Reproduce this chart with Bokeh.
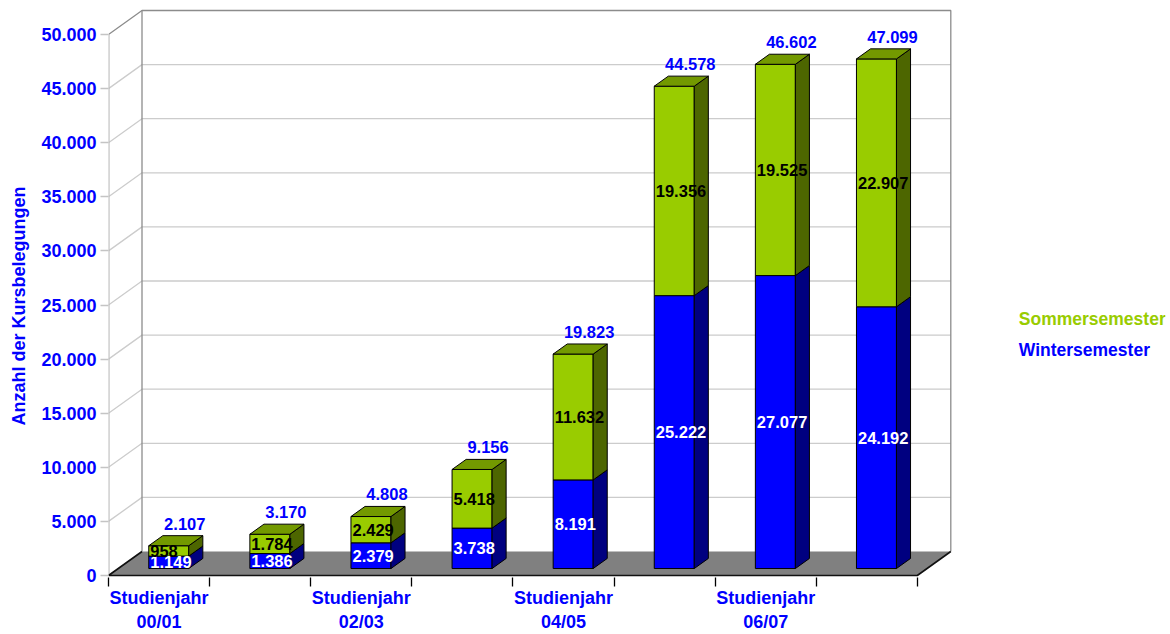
from bokeh.plotting import figure
from bokeh.models import ColumnDataSource, FixedTicker, Range1d, Title
from bokeh.core.properties import value
from bokeh.embed import file_html
from bokeh.resources import INLINE

# ---------------- data ----------------
years = ["00/01", "01/02", "02/03", "03/04", "04/05", "05/06", "06/07", "07/08"]
winter = [1149, 1386, 2379, 3738, 8191, 25222, 27077, 24192]
summer = [958, 1784, 2429, 5418, 11632, 19356, 19525, 22907]
y_ticks = [0, 5000, 10000, 15000, 20000, 25000, 30000, 35000, 40000, 45000, 50000]
labelled_years = ["00/01", "02/03", "04/05", "06/07"]
series_names = ["Sommersemester", "Wintersemester"]
y_title = "Anzahl der Kursbelegungen"
x_prefix = "Studienjahr"


def de(v):
    return f"{v:,}".replace(",", ".")


totals = [w + s for w, s in zip(winter, summer)]
N = len(years)
YMAX = y_ticks[-1]

# ---------------- geometry (pixel scale of the 3D box) ----------------
W, H = 1170, 634
LEFT, RIGHT, TOP, BOTTOM = 108, 5, 2, 57
PX_X = 101.1                 # pixels per category
PX_Y = 541.0 / YMAX          # pixels per unit
ZERO_PX_FROM_BOTTOM = 2      # y=0 is 2px above frame bottom
DX = 33.5 / PX_X             # full depth (x units)
DY = 24.0 / PX_Y             # full depth (y units)
FRONT, BDEPTH = 0.29, 0.42
HALF = 20.0 / PX_X
ox, oy = FRONT * DX, FRONT * DY
bdx, bdy = BDEPTH * DX, BDEPTH * DY

frame_w = W - LEFT - RIGHT
frame_h = H - TOP - BOTTOM
y_start = -ZERO_PX_FROM_BOTTOM / PX_Y
y_end = y_start + frame_h / PX_Y
x_end = frame_w / PX_X

FONT = value("Liberation Sans")
BLUE = "#0000ff"
GREEN = "#99cc00"

p = figure(width=W, height=H, x_range=Range1d(0, x_end), y_range=Range1d(y_start, y_end),
           output_backend="svg", toolbar_location=None,
           min_border_left=LEFT, min_border_right=RIGHT,
           min_border_top=TOP, min_border_bottom=BOTTOM)
p.outline_line_color = None
p.xgrid.visible = False
p.ygrid.visible = False
p.background_fill_color = "white"

# ---------------- walls & floor ----------------
p.patch([DX, N + DX, N + DX, DX], [DY, DY, YMAX + DY, YMAX + DY],
        fill_color="white", line_color=None)

grid_vals = y_ticks[1:-1]
gxs, gys = [], []
for v in grid_vals:
    gxs.append([0, DX, N + DX])
    gys.append([v, v + DY, v + DY])
p.multi_line(gxs, gys, line_color="#cccccc", line_width=1.3)

# back-left edge, top edge, right edge
p.multi_line([[DX, DX], [0, DX, N + DX, N + DX]],
             [[DY, YMAX + DY], [YMAX, YMAX + DY, YMAX + DY, DY]],
             line_color="#8c8c8c", line_width=1.3)
# front vertical axis line
p.line([0, 0], [0, YMAX], line_color="#bdbdbd", line_width=2.2)

# floor
p.patch([0, N, N + DX, DX], [0, 0, DY, DY], fill_color="#808080", line_color=None)
p.multi_line([[DX, 0, N, N + DX]], [[DY, 0, 0, DY]], line_color="#111111", line_width=1.6)

# ---------------- bars ----------------
front_xs, front_ys, front_c = [], [], []
side_xs, side_ys, side_c = [], [], []
top_xs, top_ys = [], []
for i in range(N):
    xl = i + 0.5 - HALF + ox
    xr = i + 0.5 + HALF + ox
    segs = [(0, winter[i], BLUE, "#000080"),
            (winter[i], totals[i], GREEN, "#4d6600")]
    for b, t, fc, sc in segs:
        y0, y1 = b + oy, t + oy
        front_xs.append([xl, xr, xr, xl]); front_ys.append([y0, y0, y1, y1]); front_c.append(fc)
        side_xs.append([xr, xr + bdx, xr + bdx, xr]); side_ys.append([y0, y0 + bdy, y1 + bdy, y1]); side_c.append(sc)
    y1 = totals[i] + oy
    top_xs.append([xl, xr, xr + bdx, xl + bdx]); top_ys.append([y1, y1, y1 + bdy, y1 + bdy])

p.patches(front_xs, front_ys, fill_color=front_c, line_color="black", line_width=1)
p.patches(side_xs, side_ys, fill_color=side_c, line_color="black", line_width=1)
p.patches(top_xs, top_ys, fill_color="#739900", line_color="black", line_width=1)

# ---------------- value labels ----------------
cx = [i + 0.5 + ox for i in range(N)]
lx = [c - HALF + 1.5 / PX_X for c in cx]        # labels start at the bar's front-left edge
win_src = ColumnDataSource(dict(x=lx, y=[w / 2 + oy for w in winter], t=[de(w) for w in winter]))
sum_src = ColumnDataSource(dict(x=lx, y=[w + s / 2 + oy for w, s in zip(winter, summer)],
                                t=[de(s) for s in summer]))
tot_src = ColumnDataSource(dict(x=[c + 16 / PX_X for c in cx],
                                y=[t + oy + bdy + 12 / PX_Y for t in totals],
                                t=[de(t) for t in totals]))
common = dict(text_font=FONT, text_font_style="bold", text_font_size="16.5px",
              text_baseline="middle")
p.text("x", "y", text="t", source=win_src, text_color="white", text_align="left", **common)
p.text("x", "y", text="t", source=sum_src, text_color="black", text_align="left", **common)
p.text("x", "y", text="t", source=tot_src, text_color=BLUE, text_align="center", **common)

# ---------------- legend (text only) ----------------
leg_src = ColumnDataSource(dict(x=[N + DX + 68 / PX_X] * 2,
                                y=[257 / PX_Y, 226 / PX_Y],
                                t=series_names, c=[GREEN, BLUE]))
p.text("x", "y", text="t", source=leg_src, text_color="c", text_font=FONT,
       text_font_style="bold", text_font_size="17.5px", text_align="left", text_baseline="middle")

# ---------------- axes ----------------
yax = p.yaxis[0]
yax.ticker = FixedTicker(ticks=y_ticks)
yax.major_label_overrides = {v: de(v) for v in y_ticks}
yax.axis_line_color = None
yax.major_tick_out = 8
yax.major_tick_in = 0
yax.major_tick_line_color = "#c4c4c4"
yax.major_tick_line_width = 1.3
yax.minor_tick_line_color = None
yax.major_label_standoff = 4
yax.major_label_text_font = "Liberation Sans"
yax.major_label_text_font_style = "bold"
yax.major_label_text_font_size = "18px"
yax.major_label_text_color = BLUE

# y-axis title, placed along the value range (0 .. 50.000)
ytitle = Title(text=y_title, align="left", vertical_align="top", offset=152, standoff=15,
               text_font="Liberation Sans", text_font_style="bold", text_font_size="18px",
               text_color=BLUE)
p.add_layout(ytitle, "left")

xax = p.xaxis[0]
major = [years.index(y) + 0.5 for y in labelled_years]
xax.ticker = FixedTicker(ticks=major, minor_ticks=list(range(N + 1)))
xax.major_label_overrides = {m: f"{x_prefix}\n{y}" for m, y in zip(major, labelled_years)}
xax.axis_line_color = None
xax.major_tick_line_color = None
xax.major_tick_out = 0
xax.major_tick_in = 0
xax.minor_tick_out = 9
xax.minor_tick_in = 0
xax.minor_tick_line_color = "black"
xax.minor_tick_line_width = 1.3
xax.major_label_standoff = 1
xax.major_label_text_font = "Liberation Sans"
xax.major_label_text_font_style = "bold"
xax.major_label_text_font_size = "18px"
xax.major_label_text_color = BLUE
xax.major_label_text_line_height = 1.2

open("out.html", "w").write(file_html(p, INLINE))
